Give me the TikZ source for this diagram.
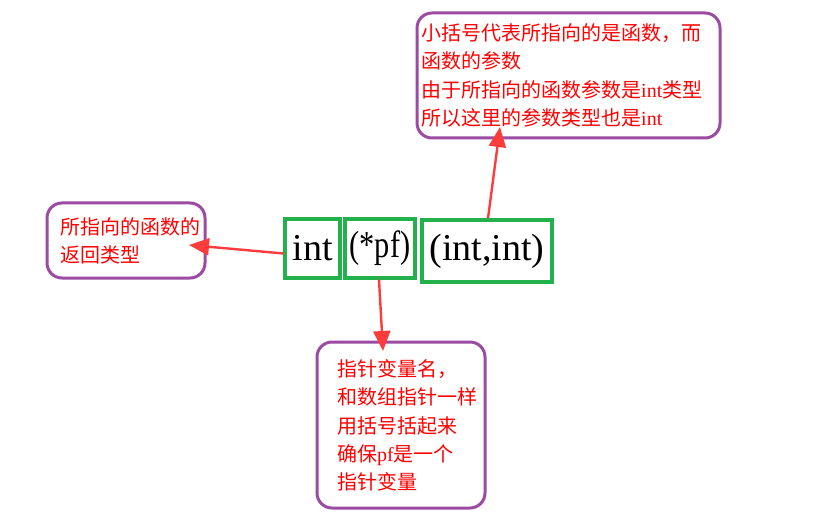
\documentclass[tikz,border=0pt]{standalone}
\usepackage{fontspec}
\setmainfont{Liberation Serif}
\newfontfamily\cjk{Noto Sans CJK SC}
\usetikzlibrary{arrows.meta}
\definecolor{boxpurple}{HTML}{9C4BA3}
\definecolor{boxgreen}{HTML}{22B14C}
\definecolor{arrred}{HTML}{FF3C3C}
\newcommand\latinw[1]{{\normalfont #1}}
\tikzset{
  notebox/.style={draw=boxpurple, line width=3pt, rounded corners=15pt, fill=white},
  notetext/.style={anchor=west, inner sep=0pt, align=left, text=red, font=\cjk\fontsize{20}{28.2}\selectfont},
  codebox/.style={draw=boxgreen, line width=3.2pt, inner sep=0pt, font=\fontsize{38}{40}\selectfont},
  redarrow/.style={draw=arrred, line width=2.4pt, -{Triangle[length=20pt,width=17pt]}}
}
\begin{document}
\begin{tikzpicture}[x=1pt,y=-1pt]
\useasboundingbox[fill=white] (0,0) rectangle (840,529);
% note boxes
\node[notebox, minimum width=303pt, minimum height=125pt] (topbox) at (568.5,75.5) {};
\node[notetext] (toptext) at (421,75.5) {小括号代表所指向的是函数，而\\函数的参数\\由于所指向的函数参数是\latinw{int}类型\\所以这里的参数类型也是\latinw{int}};
\node[notebox, minimum width=158pt, minimum height=75pt] (leftbox) at (126,240.5) {};
\node[notetext] (lefttext) at (60,241) {所指向的函数的\\返回类型};
\node[notebox, minimum width=168pt, minimum height=166pt] (botbox) at (401,425) {};
\node[notetext] (bottext) at (337,425.5) {指针变量名，\\和数组指针一样\\用括号括起来\\确保\latinw{pf}是一个\\指针变量};
% code boxes
\node[codebox, minimum width=55pt, minimum height=59pt] (intbox) at (312.5,248.5) {int};
\node[codebox, minimum width=70pt, minimum height=59pt] (pfbox) at (380,248.5) {\scalebox{0.8}[1]{(*pf)}};
\node[codebox, minimum width=130pt, minimum height=62pt] (argbox) at (487,251) {(int,int)};
% arrow tips
\coordinate (lefttip) at (189,245);
\coordinate (toptip) at (500,127);
\coordinate (bottip) at (383,351);
\draw[redarrow] ([yshift=-5pt]intbox.west) -- (lefttip);
\draw[redarrow] ([xshift=1pt]argbox.north) -- (toptip);
\draw[redarrow] ([xshift=-1pt]pfbox.south) -- (bottip);
\end{tikzpicture}
\end{document}
